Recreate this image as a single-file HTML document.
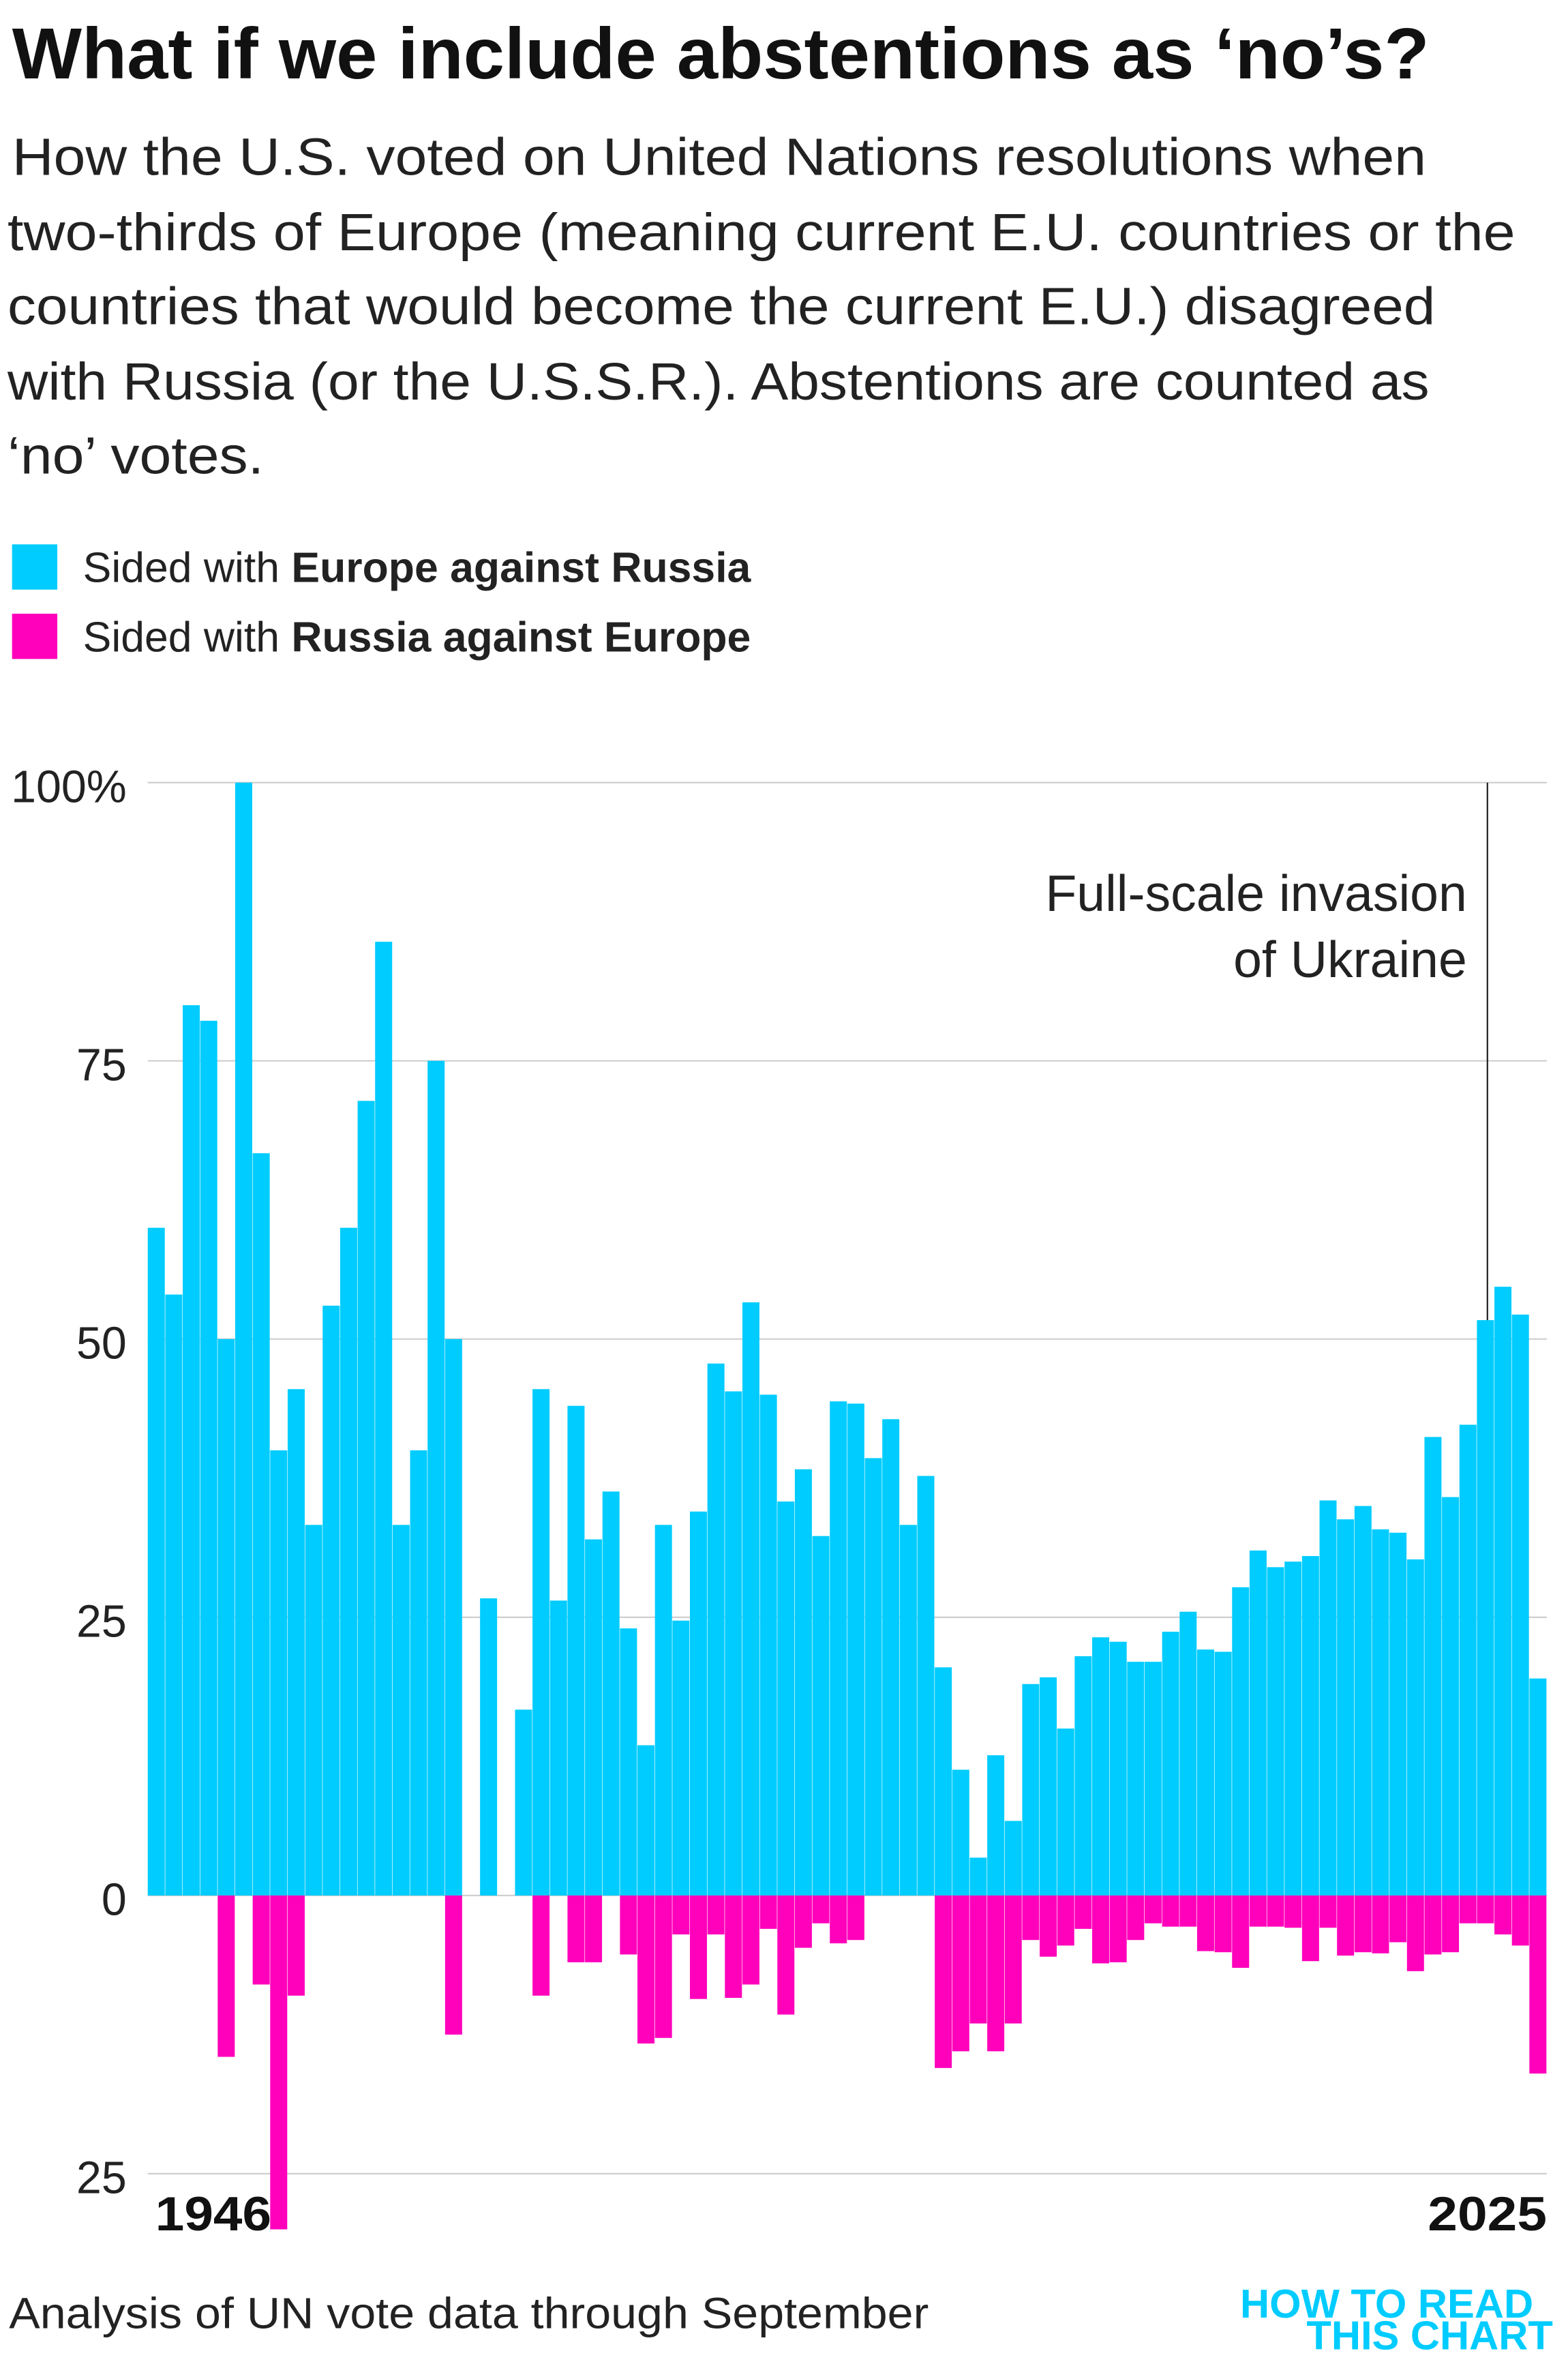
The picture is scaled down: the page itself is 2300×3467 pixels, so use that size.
<!DOCTYPE html>
<html><head><meta charset="utf-8">
<style>
html,body{margin:0;padding:0;background:#fff;}
svg{display:block;}
text{font-family:"Liberation Sans",sans-serif;}
</style></head>
<body>
<svg id="chart" width="2300" height="3467" viewBox="0 0 1040 1567.7" xmlns="http://www.w3.org/2000/svg">
<text x="8" y="52" font-size="48" font-weight="bold" fill="#111" textLength="940" lengthAdjust="spacingAndGlyphs">What if we include abstentions as ‘no’s?</text>
<g font-size="35" fill="#222" lengthAdjust="spacingAndGlyphs">
<text x="8" y="116" textLength="938" lengthAdjust="spacingAndGlyphs">How the U.S. voted on United Nations resolutions when</text>
<text x="5" y="166" textLength="1000" lengthAdjust="spacingAndGlyphs">two-thirds of Europe (meaning current E.U. countries or the</text>
<text x="5" y="215" textLength="947" lengthAdjust="spacingAndGlyphs">countries that would become the current E.U.) disagreed</text>
<text x="5" y="265" textLength="943" lengthAdjust="spacingAndGlyphs">with Russia (or the U.S.S.R.). Abstentions are counted as</text>
<text x="5" y="314" textLength="170" lengthAdjust="spacingAndGlyphs">‘no’ votes.</text>
</g>
<g>
<rect x="8" y="361" width="30" height="30" fill="#00CCFF"/>
<text x="55" y="386" font-size="28" fill="#222" textLength="443" lengthAdjust="spacingAndGlyphs">Sided with <tspan font-weight="bold">Europe against Russia</tspan></text>
<rect x="8" y="407" width="30" height="30" fill="#FF00BB"/>
<text x="55" y="432" font-size="28" fill="#222" textLength="443" lengthAdjust="spacingAndGlyphs">Sided with <tspan font-weight="bold">Russia against Europe</tspan></text>
</g>
<g id="grid"></g>
<g id="bars"></g>
<g id="ticks"></g>
<line id="ukline" stroke="#222" stroke-width="1"/>
<g font-size="34" fill="#222" text-anchor="end">
<text x="973" y="604">Full-scale invasion</text>
<text x="973" y="648">of Ukraine</text>
</g>
<text x="103" y="1479" font-size="32" font-weight="bold" fill="#111" textLength="77" lengthAdjust="spacingAndGlyphs">1946</text>
<text x="947" y="1479" font-size="32" font-weight="bold" fill="#111" textLength="79" lengthAdjust="spacingAndGlyphs">2025</text>
<text x="6" y="1544" font-size="29" fill="#222" textLength="610" lengthAdjust="spacingAndGlyphs">Analysis of UN vote data through September</text>
<g font-size="27" font-weight="bold" fill="#00CCFF" text-anchor="end">
<text x="1017" y="1537">HOW TO READ</text>
<text x="1030" y="1558">THIS CHART</text>
</g>
</svg>
<script>
const years = [];
for (let y = 1946; y <= 2025; y++) years.push(y);
const europeSide = [60,54,80,78.6,50,100,66.7,40,45.5,33.3,53,60,71.4,85.7,33.3,40,75,50,0,26.7,0,16.7,45.5,26.5,44,32,36.3,24,13.5,33.3,24.7,34.5,47.8,45.3,53.3,45,35.4,38.3,32.3,44.4,44.2,39.3,42.8,33.3,37.7,20.5,11.3,3.4,12.6,6.7,19,19.6,15,21.5,23.2,22.8,21,21,23.7,25.5,22.1,21.9,27.7,31,29.5,30,30.5,35.5,33.8,35,32.9,32.6,30.2,41.2,35.8,42.3,51.7,54.7,52.2,19.5];
const russiaSide = [0,0,0,0,14.5,0,8,30,9,0,0,0,0,0,0,0,0,12.5,0,0,0,0,9,0,6,6,0,5.3,13.3,12.8,3.5,9.3,3.5,9.2,8,3,10.7,4.7,2.5,4.3,4,0,0,0,0,15.5,14,11.5,14,11.5,4,5.5,4.5,3,6.1,6,4,2.5,2.8,2.8,5,5.1,6.5,2.8,2.8,2.9,5.9,2.9,5.4,5.1,5.2,4.2,6.8,5.3,5.1,2.5,2.5,3.5,4.5,16];
const yTicks = [100,75,50,25,0,-25];
const yTickLabels = ["100%","75","50","25","0","25"];
const invasionYear = 2022;

const X0 = 98, X1 = 1026, Y0 = 1257, UNIT = (1257-519)/100;
const bw = (X1 - X0) / years.length;
const xScale = i => X0 + i * bw;
const yScale = v => Y0 - v * UNIT;
const NS = "http://www.w3.org/2000/svg";
const grid = document.getElementById('grid'), bars = document.getElementById('bars'), ticks = document.getElementById('ticks');

yTicks.forEach((t, i) => {
  const l = document.createElementNS(NS, 'line');
  
  
  l.setAttribute('x1', X0); l.setAttribute('x2', X1);
  l.setAttribute('y1', yScale(t)); l.setAttribute('y2', yScale(t));
  l.setAttribute('stroke', '#cfcfcf'); l.setAttribute('stroke-width', '1');
  grid.appendChild(l);
  const tx = document.createElementNS(NS, 'text');
  
  
  tx.setAttribute('x', 84); tx.setAttribute('y', yScale(t) + 13);
  tx.setAttribute('text-anchor', 'end'); tx.setAttribute('font-size', '30'); tx.setAttribute('fill', '#222');
  tx.textContent = yTickLabels[i];
  ticks.appendChild(tx);
});

years.forEach((yr, i) => {
  if (europeSide[i] > 0) {
    const r = document.createElementNS(NS, 'rect');
    
    
    r.setAttribute('x', xScale(i)); r.setAttribute('width', bw - 0.3);
    r.setAttribute('y', yScale(europeSide[i])); r.setAttribute('height', Y0 - yScale(europeSide[i]));
    r.setAttribute('fill', '#00CCFF');
    bars.appendChild(r);
  }
  if (russiaSide[i] > 0) {
    const r = document.createElementNS(NS, 'rect');
    
    
    r.setAttribute('x', xScale(i)); r.setAttribute('width', bw - 0.3);
    r.setAttribute('y', Y0); r.setAttribute('height', yScale(-russiaSide[i]) - Y0);
    r.setAttribute('fill', '#FF00BB');
    bars.appendChild(r);
  }
});

const ui = years.indexOf(invasionYear);
const ul = document.getElementById('ukline');
const ux = xScale(ui) + bw * 0.6;
ul.setAttribute('x1', ux); ul.setAttribute('x2', ux);
ul.setAttribute('y1', yScale(100)); ul.setAttribute('y2', yScale(europeSide[ui]));
</script>
</body></html>
